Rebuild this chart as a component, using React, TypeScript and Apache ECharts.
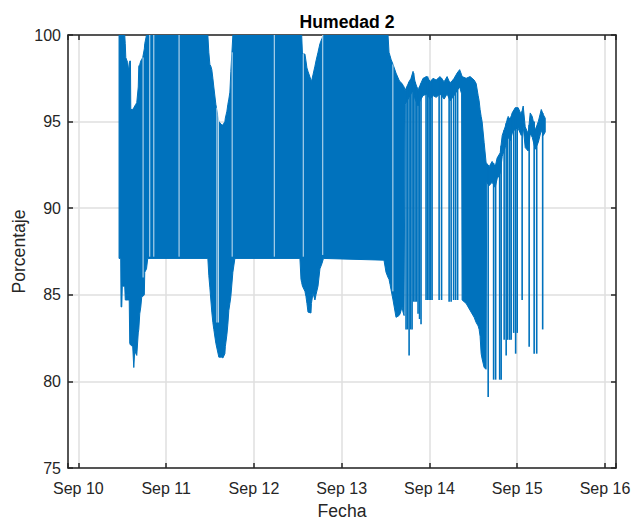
import React, { useEffect, useRef } from "react";
import * as echarts from "echarts";

// x values are days since Sep 10 00:00
const xTickLabels = ["Sep 10", "Sep 11", "Sep 12", "Sep 13", "Sep 14", "Sep 15", "Sep 16"];

// Dense oscillation band: upper and lower envelope of the trace
const bandTime = [
  0.463, 0.482, 0.486, 0.494, 0.5, 0.528, 0.534, 0.54, 0.562, 0.574, 0.579, 0.585, 0.593, 0.597,
  0.619, 0.631, 0.642, 0.654, 0.665, 0.682, 0.688, 0.699, 0.711, 0.722, 0.733, 0.751, 0.756, 0.776,
  0.79, 1.475, 1.486, 1.498, 1.509, 1.52, 1.532, 1.543, 1.566, 1.6, 1.635, 1.646, 1.669, 1.674,
  1.692, 1.703, 1.714, 1.726, 1.737, 1.76, 1.783, 2.524, 2.536, 2.544, 2.553, 2.581, 2.593, 2.604,
  2.616, 2.65, 2.655, 2.673, 2.695, 2.707, 2.73, 2.752, 2.775, 2.792, 3.482, 3.505, 3.528, 3.539,
  3.551, 3.562, 3.585, 3.619, 3.653, 3.665, 3.688, 3.699, 3.711, 3.722, 3.768, 3.79, 3.813, 3.836,
  3.87, 3.893, 3.927, 3.973, 4.007, 4.041, 4.076, 4.121, 4.167, 4.201, 4.235, 4.281, 4.315, 4.344,
  4.366, 4.372, 4.418, 4.463, 4.509, 4.532, 4.555, 4.566, 4.577, 4.589, 4.6, 4.623, 4.646, 4.652,
  4.68, 4.714, 4.749, 4.771, 4.806, 4.829, 4.863, 4.897, 4.92, 4.942, 4.977, 5.011, 5.046, 5.068,
  5.091, 5.125, 5.148, 5.171, 5.205, 5.24, 5.274, 5.297, 5.319,
];
const bandUpper = [
  100, 100, 100, 100, 100, 100, 99.5, 98.7, 98.4, 97.9, 98.2, 98.5, 98.5, 95.7,
  95.7, 95.8, 95.9, 96.0, 96.1, 97.0, 98.2, 98.3, 98.5, 98.6, 98.7, 99.2, 99.5, 100,
  100, 100, 99.0, 98.3, 98.2, 98.0, 97.5, 97.0, 96.0, 95.0, 94.8, 94.8, 95.0, 95.2,
  95.6, 96.0, 96.3, 96.7, 97.9, 100, 100, 100, 100, 100, 98.9, 98.9, 98.5, 98.1,
  97.9, 97.4, 97.3, 97.7, 98.2, 98.5, 99.0, 99.5, 99.8, 100, 100, 100, 100, 99.0,
  98.8, 98.6, 98.3, 97.8, 97.4, 97.3, 97.2, 97.1, 97.0, 96.8, 97.3, 97.5, 97.9, 97.3,
  96.8, 97.1, 97.5, 97.6, 97.3, 97.5, 97.4, 97.6, 97.3, 97.6, 97.2, 97.5, 97.8, 98.0,
  97.7, 97.6, 97.5, 97.6, 97.4, 97.2, 96.5, 96.2, 95.7, 95.3, 95.0, 93.8, 92.6, 92.6,
  92.4, 92.7, 92.4, 92.9, 93.2, 94.2, 94.7, 95.3, 95.1, 95.5, 95.8, 95.8, 95.4, 95.9,
  94.7, 94.3, 95.5, 95.3, 94.5, 95.0, 95.7, 95.4, 95.2,
];
const bandLower = [
  87.1, 87.1, 84.3, 84.3, 85.5, 85.5, 84.7, 84.7, 84.7, 84.7, 84.7, 82.2, 82.1, 82.1,
  82.0, 80.8, 81.8, 81.6, 81.5, 82.8, 83.0, 83.9, 84.3, 84.9, 84.9, 85.0, 86.3, 86.5,
  87.1, 87.1, 86.1, 85.4, 84.7, 84.0, 83.4, 83.0, 82.2, 81.4, 81.4, 81.35, 81.6, 82.0,
  82.7, 83.3, 84.1, 84.5, 84.9, 86.3, 87.1, 87.1, 85.9, 85.7, 85.5, 85.2, 84.9, 84.5,
  84.0, 83.95, 84.5, 85.1, 84.7, 85.0, 85.5, 86.5, 86.8, 87.1, 87.0, 86.3, 86.0, 85.9,
  85.6, 85.3, 84.7, 83.7, 83.8, 83.9, 84.3, 84.0, 83.8, 96.0, 96.4, 96.6, 96.8, 96.3,
  95.9, 96.2, 96.5, 96.6, 96.3, 96.5, 96.4, 96.6, 96.3, 96.6, 96.2, 96.5, 96.8, 97.0,
  96.6, 84.7, 84.5, 84.1, 83.7, 83.4, 83.2, 83.0, 82.6, 81.6, 81.3, 80.8, 80.7, 91.5,
  91.3, 91.5, 91.2, 91.7, 92.0, 93.0, 93.5, 94.1, 93.9, 94.3, 94.6, 94.6, 94.2, 94.7,
  93.5, 93.3, 94.3, 94.1, 93.4, 93.8, 94.5, 94.2, 94.4,
];

// Isolated downward excursions of the trace
const spikeTime = [
  3.733, 3.75, 3.768, 3.785, 3.802, 3.819, 3.836, 3.853, 3.87, 3.887, 3.904, 3.961, 3.979, 3.996,
  4.013, 4.03, 4.11, 4.138, 4.224, 4.247, 4.275, 4.298, 4.321, 4.669, 4.731, 4.754, 4.8, 4.817,
  4.851, 4.874, 4.891, 4.914, 4.931, 4.96, 4.982, 5.0, 5.056, 5.136, 5.193, 5.222, 5.29,
];
const spikeTop = [
  96.8, 97.0, 97.3, 97.4, 97.6, 97.8, 97.3, 97.0, 96.8, 97.0, 97.2, 97.6, 97.6, 97.4,
  97.3, 97.4, 97.5, 97.5, 97.3, 97.3, 97.4, 97.6, 97.8, 92.5, 92.6, 92.5, 93.0, 93.6,
  94.5, 94.9, 95.2, 95.2, 95.3, 95.6, 95.8, 95.8, 95.6, 94.8, 95.0, 94.7, 95.5,
];
const spikeBottom = [
  83.0, 83.0, 81.5, 83.0, 83.0, 84.6, 84.6, 84.6, 83.9, 83.6, 83.3, 84.7, 84.7, 84.7,
  84.7, 84.7, 84.7, 84.7, 84.6, 84.6, 84.7, 84.7, 84.7, 79.1, 80.1, 80.1, 80.1, 80.1,
  82.4, 81.5, 82.4, 82.4, 82.4, 82.8, 81.6, 82.8, 84.7, 82.0, 81.6, 81.6, 83.0,
];

// Short pauses inside the dense band (no oscillation)
const gapTime = [0.737, 0.813, 0.859, 1.147, 1.578, 1.595, 1.752, 2.232, 2.562, 2.784, 3.583];
const gapTop = [98.7, 100, 100, 100, 95.8, 95.6, 99, 100, 98.9, 100, 98.3];
const gapBottom = [86.0, 87.2, 87.2, 87.2, 83.4, 83.4, 87.2, 87.2, 87.2, 87.3, 85.2];

const BLUE = "#0072BD";
const AX = "#262626";
const FONT = '"Liberation Sans", Arial, Helvetica, sans-serif';

export default function App() {
  const ref = useRef<HTMLDivElement>(null);

  useEffect(() => {
    if (!ref.current) return;
    const chart = echarts.init(ref.current, null, { renderer: "svg" });

    const xMin = -0.1186;
    const xMax = 6.1255;

    const bandData = bandTime.map((t, i) => [t, bandUpper[i], bandLower[i]]);
    const spikeData = spikeTime.map((t, i) => [t, spikeTop[i], spikeBottom[i]]);
    const gapData = gapTime.map((t, i) => [t, gapTop[i], gapBottom[i]]);

    const axisLine = { show: true, onZero: false, lineStyle: { color: AX, width: 1.5 } };
    const axisTick = { show: true, inside: true, length: 5, lineStyle: { color: AX, width: 1.5 } };
    const splitLine = { show: true, lineStyle: { color: "#dfdfdf", width: 1.5 } };

    const xCommon = {
      type: "value",
      min: xMin,
      max: xMax,
      minInterval: 1,
      maxInterval: 1,
      splitNumber: 6,
    };
    const yCommon = { type: "value", min: 75, max: 100, interval: 5 };

    const vline = (color: string, width: number, opacity: number) => (params: any, api: any) => {
      const a = api.coord([api.value(0), api.value(1)]);
      const b = api.coord([api.value(0), api.value(2)]);
      return {
        type: "line",
        shape: { x1: a[0], y1: a[1], x2: b[0], y2: b[1] },
        style: { stroke: color, lineWidth: width, opacity },
      };
    };

    chart.setOption({
      animation: false,
      backgroundColor: "#ffffff",
      title: {
        text: "Humedad 2",
        left: 342,
        top: 8,
        textAlign: "center",
        textStyle: { fontFamily: FONT, fontSize: 17.6, fontWeight: "bold", color: "#000" },
      },
      grid: {
        left: 68,
        right: 16,
        top: 35,
        bottom: 52,
        containLabel: false,
        outerBoundsMode: "none",
      },
      xAxis: [
        {
          ...xCommon,
          position: "bottom",
          name: "Fecha",
          nameLocation: "middle",
          nameGap: 34,
          nameTextStyle: { fontFamily: FONT, fontSize: 17.6, color: AX },
          axisLine,
          axisTick,
          splitLine,
          axisLabel: {
            show: true,
            margin: 12,
            color: AX,
            fontFamily: FONT,
            fontSize: 16,
            formatter: (v: number) => {
              const r = Math.round(v);
              if (Math.abs(v - r) > 1e-6) return "";
              return xTickLabels[r] ?? "";
            },
          },
        },
        {
          ...xCommon,
          position: "top",
          axisLine,
          axisTick,
          splitLine: { show: false },
          axisLabel: { show: false },
        },
      ],
      yAxis: [
        {
          ...yCommon,
          position: "left",
          name: "Porcentaje",
          nameLocation: "middle",
          nameGap: 40,
          nameMoveOverlap: false,
          nameTextStyle: { fontFamily: FONT, fontSize: 17.6, color: AX },
          axisLine,
          axisTick,
          splitLine,
          axisLabel: { show: true, margin: 7, color: AX, fontFamily: FONT, fontSize: 16 },
        },
        {
          ...yCommon,
          position: "right",
          axisLine,
          axisTick,
          splitLine: { show: false },
          axisLabel: { show: false },
        },
      ],
      series: [
        {
          type: "custom",
          name: "band",
          xAxisIndex: 0,
          yAxisIndex: 0,
          clip: true,
          encode: { x: 0, y: [1, 2] },
          data: bandData,
          renderItem: (params: any, api: any) => {
            if (params.dataIndex !== 0) return null;
            const pts: number[][] = [];
            for (let i = 0; i < bandTime.length; i++) pts.push(api.coord([bandTime[i], bandUpper[i]]));
            for (let i = bandTime.length - 1; i >= 0; i--) pts.push(api.coord([bandTime[i], bandLower[i]]));
            return {
              type: "polygon",
              shape: { points: pts },
              style: { fill: BLUE, stroke: BLUE, lineWidth: 1 },
            };
          },
        },
        {
          type: "custom",
          name: "gaps",
          xAxisIndex: 0,
          yAxisIndex: 0,
          clip: true,
          encode: { x: 0, y: [1, 2] },
          data: gapData,
          renderItem: vline("#ffffff", 1, 0.8),
        },
        {
          type: "custom",
          name: "spikes",
          xAxisIndex: 0,
          yAxisIndex: 0,
          clip: true,
          encode: { x: 0, y: [1, 2] },
          data: spikeData,
          renderItem: vline(BLUE, 1.6, 1),
        },
      ],
    });

    return () => {
      chart.dispose();
    };
  }, []);

  return (
    <div
      ref={ref}
      style={{ position: "absolute", left: 0, top: 0, width: 632, height: 520 }}
    />
  );
}
